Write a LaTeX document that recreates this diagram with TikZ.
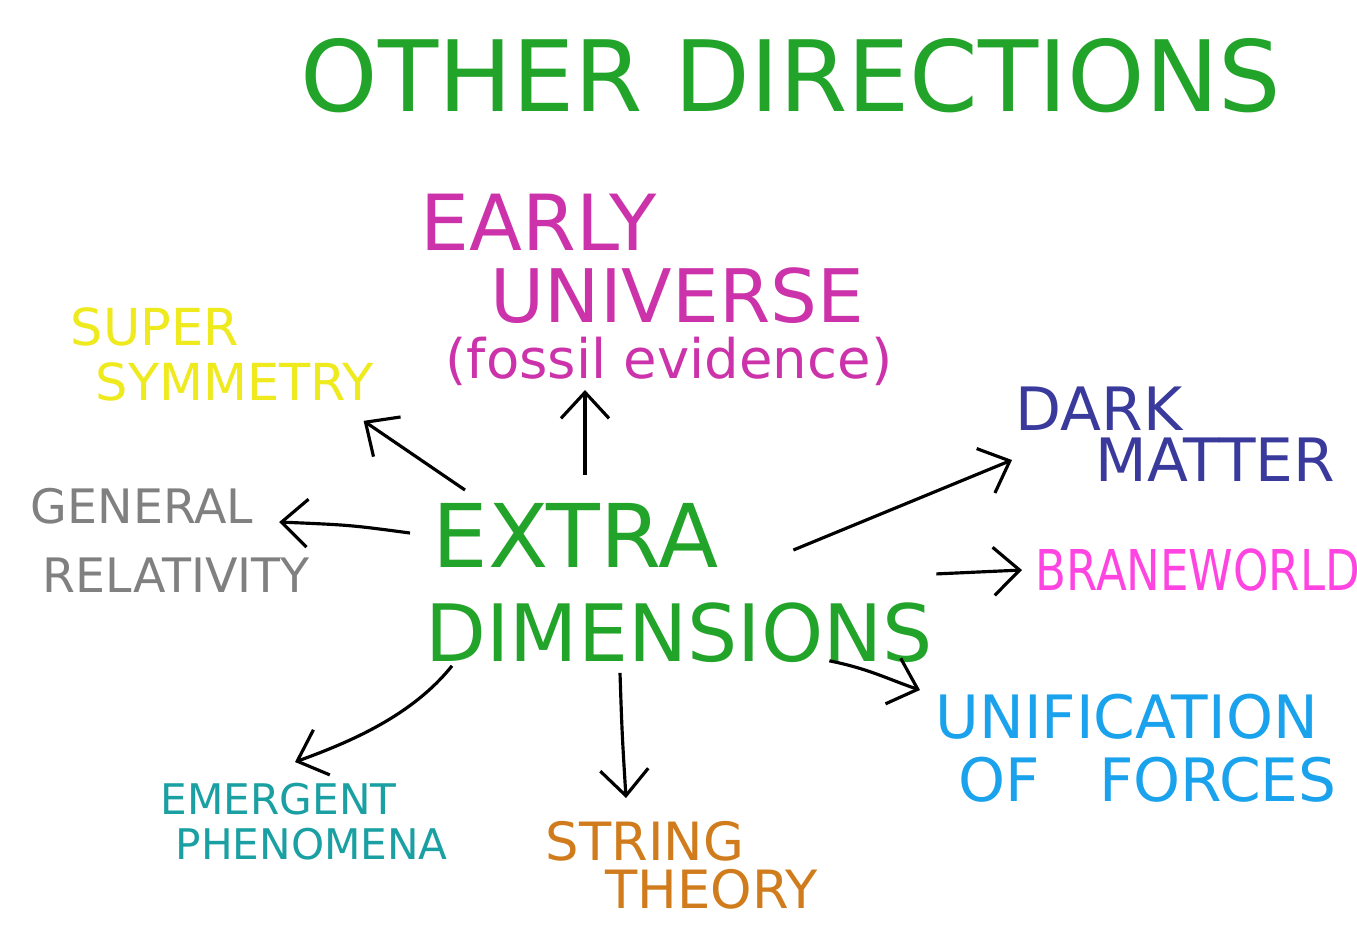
\documentclass[tikz,border=0pt]{standalone}
\usepackage{fontspec}
\setmainfont{DejaVu Sans}
\usepackage{graphicx}
\usepackage{tikz}
\usetikzlibrary{arrows.meta}

\definecolor{dirgreen}{HTML}{22A32A}
\definecolor{earlypink}{HTML}{CC33AA}
\definecolor{susyyellow}{HTML}{EEEA1E}
\definecolor{grgray}{HTML}{808080}
\definecolor{dmblue}{HTML}{3A3A9C}
\definecolor{branepink}{HTML}{FF44E2}
\definecolor{unifblue}{HTML}{1AA2EC}
\definecolor{emergteal}{HTML}{1AA0A2}
\definecolor{stringorange}{HTML}{D07C1C}

\begin{document}
\begin{tikzpicture}[>={Straight Barb[length=2.6mm,width=4.8mm]}, x=0.01cm, y=-0.01cm]
        \tikzstyle{topicnode}=[inner sep=0pt, anchor=north west, align=left]
        \tikzstyle{arrowline}=[->, line width=0.9pt, black]
        \useasboundingbox[fill=white] (0,0) rectangle (1357,929);
        % title
        \node[topicnode, text=dirgreen, font=\fontsize{28}{34}\selectfont] (title) at (300,38) {OTHER DIRECTIONS};
        % centre
        \node[topicnode, text=dirgreen, font=\fontsize{25}{26.5}\selectfont] (ed) at (425,503)
            {\hspace*{0.7mm}EXTRA\\\fontsize{22.5}{26.5}\selectfont DIMENSIONS};
        % topics round it
        \node[topicnode, text=earlypink, font=\fontsize{22}{20.5}\selectfont] (early) at (420,193)
            {EARLY\\\fontsize{21}{20.5}\selectfont\hspace*{7mm}UNIVERSE\\[-4.6pt]\fontsize{15.5}{20.5}\selectfont\hspace*{2.5mm}(fossil evidence)};
        \node[topicnode, text=susyyellow, font=\fontsize{14.5}{15.6}\selectfont] (susy) at (70,307)
            {SUPER\\\hspace*{2.5mm}SYMMETRY};
        \node[topicnode, text=grgray, font=\fontsize{13.5}{19.6}\selectfont] (gr) at (30,488)
            {GENERAL\\\hspace*{1.2mm}RELATIVITY};
        \node[topicnode, text=dmblue, font=\fontsize{17}{14.5}\selectfont] (dm) at (1015,386)
            {DARK\\\hspace*{8mm}MATTER};
        \node[topicnode, anchor=west, text=branepink, font=\fontsize{16}{19}\selectfont] (brane) at (1035,570)
            {\scalebox{0.8}[1]{BRANEWORLD}};
        \node[topicnode, text=unifblue, font=\fontsize{17}{17.9}\selectfont] (unif) at (935,693)
            {UNIFICATION\\\hspace*{2.3mm}OF\hspace*{5.9mm}FORCES};
        \node[topicnode, text=emergteal, font=\fontsize{12}{12.8}\selectfont] (emerg) at (160,782)
            {EMERGENT\\\hspace*{1.5mm}PHENOMENA};
        \node[topicnode, text=stringorange, font=\fontsize{15}{13.6}\selectfont] (string) at (545,821)
            {STRING\\\hspace*{6mm}THEORY};
        % arrows out of the centre
        \draw[arrowline] ([shift={(40,-13)}]ed.north west) -- ([shift={(-11,19)}]susy.south east);
        \draw[arrowline] ([shift={(160,-28)}]ed.north west) -- ([shift={(165,4)}]early.south west);
        \draw[arrowline] ([shift={(-15,30)}]ed.north west) .. controls +(-60,-8) .. ([shift={(-31,34)}]gr.north east);
        \draw[arrowline] ([shift={(-140,47)}]ed.north east) -- ([shift={(-3,-22)}]dm.south west);
        \draw[arrowline] ([shift={(3,-9)}]ed.east) -- ([shift={(-13,0)}]brane.west);
        \draw[arrowline] ([shift={(-104,-2)}]ed.south east) .. controls +(40,8) and +(-30,-10) .. ([shift={(-15,-3)}]unif.north west);
        \draw[arrowline] ([shift={(27,3)}]ed.south west) .. controls +(-40,50) and +(55,-20) .. ([shift={(135,-20)}]emerg.north west);
        \draw[arrowline] ([shift={(195,10)}]ed.south west) .. controls +(2,60) .. ([shift={(81,-23)}]string.north west);
    \end{tikzpicture}
\end{document}
